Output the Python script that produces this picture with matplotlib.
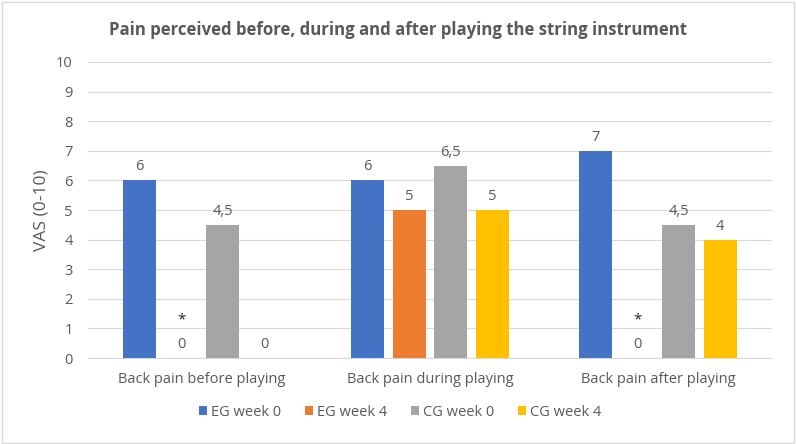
import matplotlib
matplotlib.use("Agg")
import matplotlib.pyplot as plt
import numpy as np

categories = ["Back pain before playing", "Back pain during playing", "Back pain after playing"]
series_names = ["EG week 0", "EG week 4", "CG week 0", "CG week 4"]
eg_week0 = [6, 6, 7]
eg_week4 = [0, 5, 0]
cg_week0 = [4.5, 6.5, 4.5]
cg_week4 = [0, 5, 4]
labels_eg0 = ["6", "6", "7"]
labels_eg4 = ["0", "5", "0"]
labels_cg0 = ["4,5", "6,5", "4,5"]
labels_cg4 = ["0", "5", "4"]
asterisks = [(0, 1), (2, 1)]  # (category index, series index)
colors = ["#4472C4", "#ED7D31", "#A5A5A5", "#FFC000"]

series = [eg_week0, eg_week4, cg_week0, cg_week4]
series_labels = [labels_eg0, labels_eg4, labels_cg0, labels_cg4]

plt.rcParams['font.family'] = ['Open Sans', 'DejaVu Sans']
txt = "#595959"
fs = 10.5

fig = plt.figure(figsize=(7.96, 4.44), dpi=100)
ax = fig.add_axes([88/796, 1 - 358/444, (772-88)/796, (358-62)/444])

x = np.arange(len(categories))
slot = 0.182
width = 0.145
for i, (vals, lab) in enumerate(zip(series, series_labels)):
    pos = x + (i - 1.5) * slot
    ax.bar(pos, vals, width=width, color=colors[i], label=series_names[i], zorder=3)
    for p, v, l in zip(pos, vals, lab):
        ax.annotate(l, (p, v), xytext=(0, 13.5), textcoords="offset pixels",
                    ha="center", va="center", fontsize=fs, color=txt)

for ci, si in asterisks:
    p = x[ci] + (si - 1.5) * slot
    ax.annotate("*", (p, series[si][ci]), xytext=(0, 38), textcoords="offset pixels",
                ha="center", va="center", fontsize=11, color="#222222")

ax.set_xlim(-0.5, 2.5)
ax.set_ylim(0, 10)
ax.set_yticks(range(0, 11))
ax.yaxis.grid(True, color="#D9D9D9", linewidth=0.8, zorder=0)
ax.set_axisbelow(True)
for s in ["top", "right", "left"]:
    ax.spines[s].set_visible(False)
ax.spines["bottom"].set_color("#D9D9D9")
ax.tick_params(axis="both", length=0, colors=txt, labelsize=fs)
ax.tick_params(axis="y", pad=11)
ax.tick_params(axis="x", pad=10)
ax.set_xticks(x)
ax.set_xticklabels(categories)
ax.set_ylabel("VAS (0-10)", color=txt, fontsize=12.5, labelpad=5)

fig.text(398/796, 1 - 30/444, "Pain perceived before, during and after playing the string instrument",
         ha="center", va="center", fontsize=12.1, fontweight="bold", color=txt)

leg = fig.legend(loc="center", bbox_to_anchor=(400/796, 1 - 412/444), ncol=4, frameon=False,
                 fontsize=fs, handlelength=0.55, handleheight=0.55, handletextpad=0.3,
                 columnspacing=1.6, labelcolor=txt)

fig.patches.append(plt.Rectangle((0.002, 0.003), 0.995, 0.993, transform=fig.transFigure,
                                 fill=False, edgecolor="#D9D9D9", linewidth=1))

fig.savefig("out.png", dpi=100)
